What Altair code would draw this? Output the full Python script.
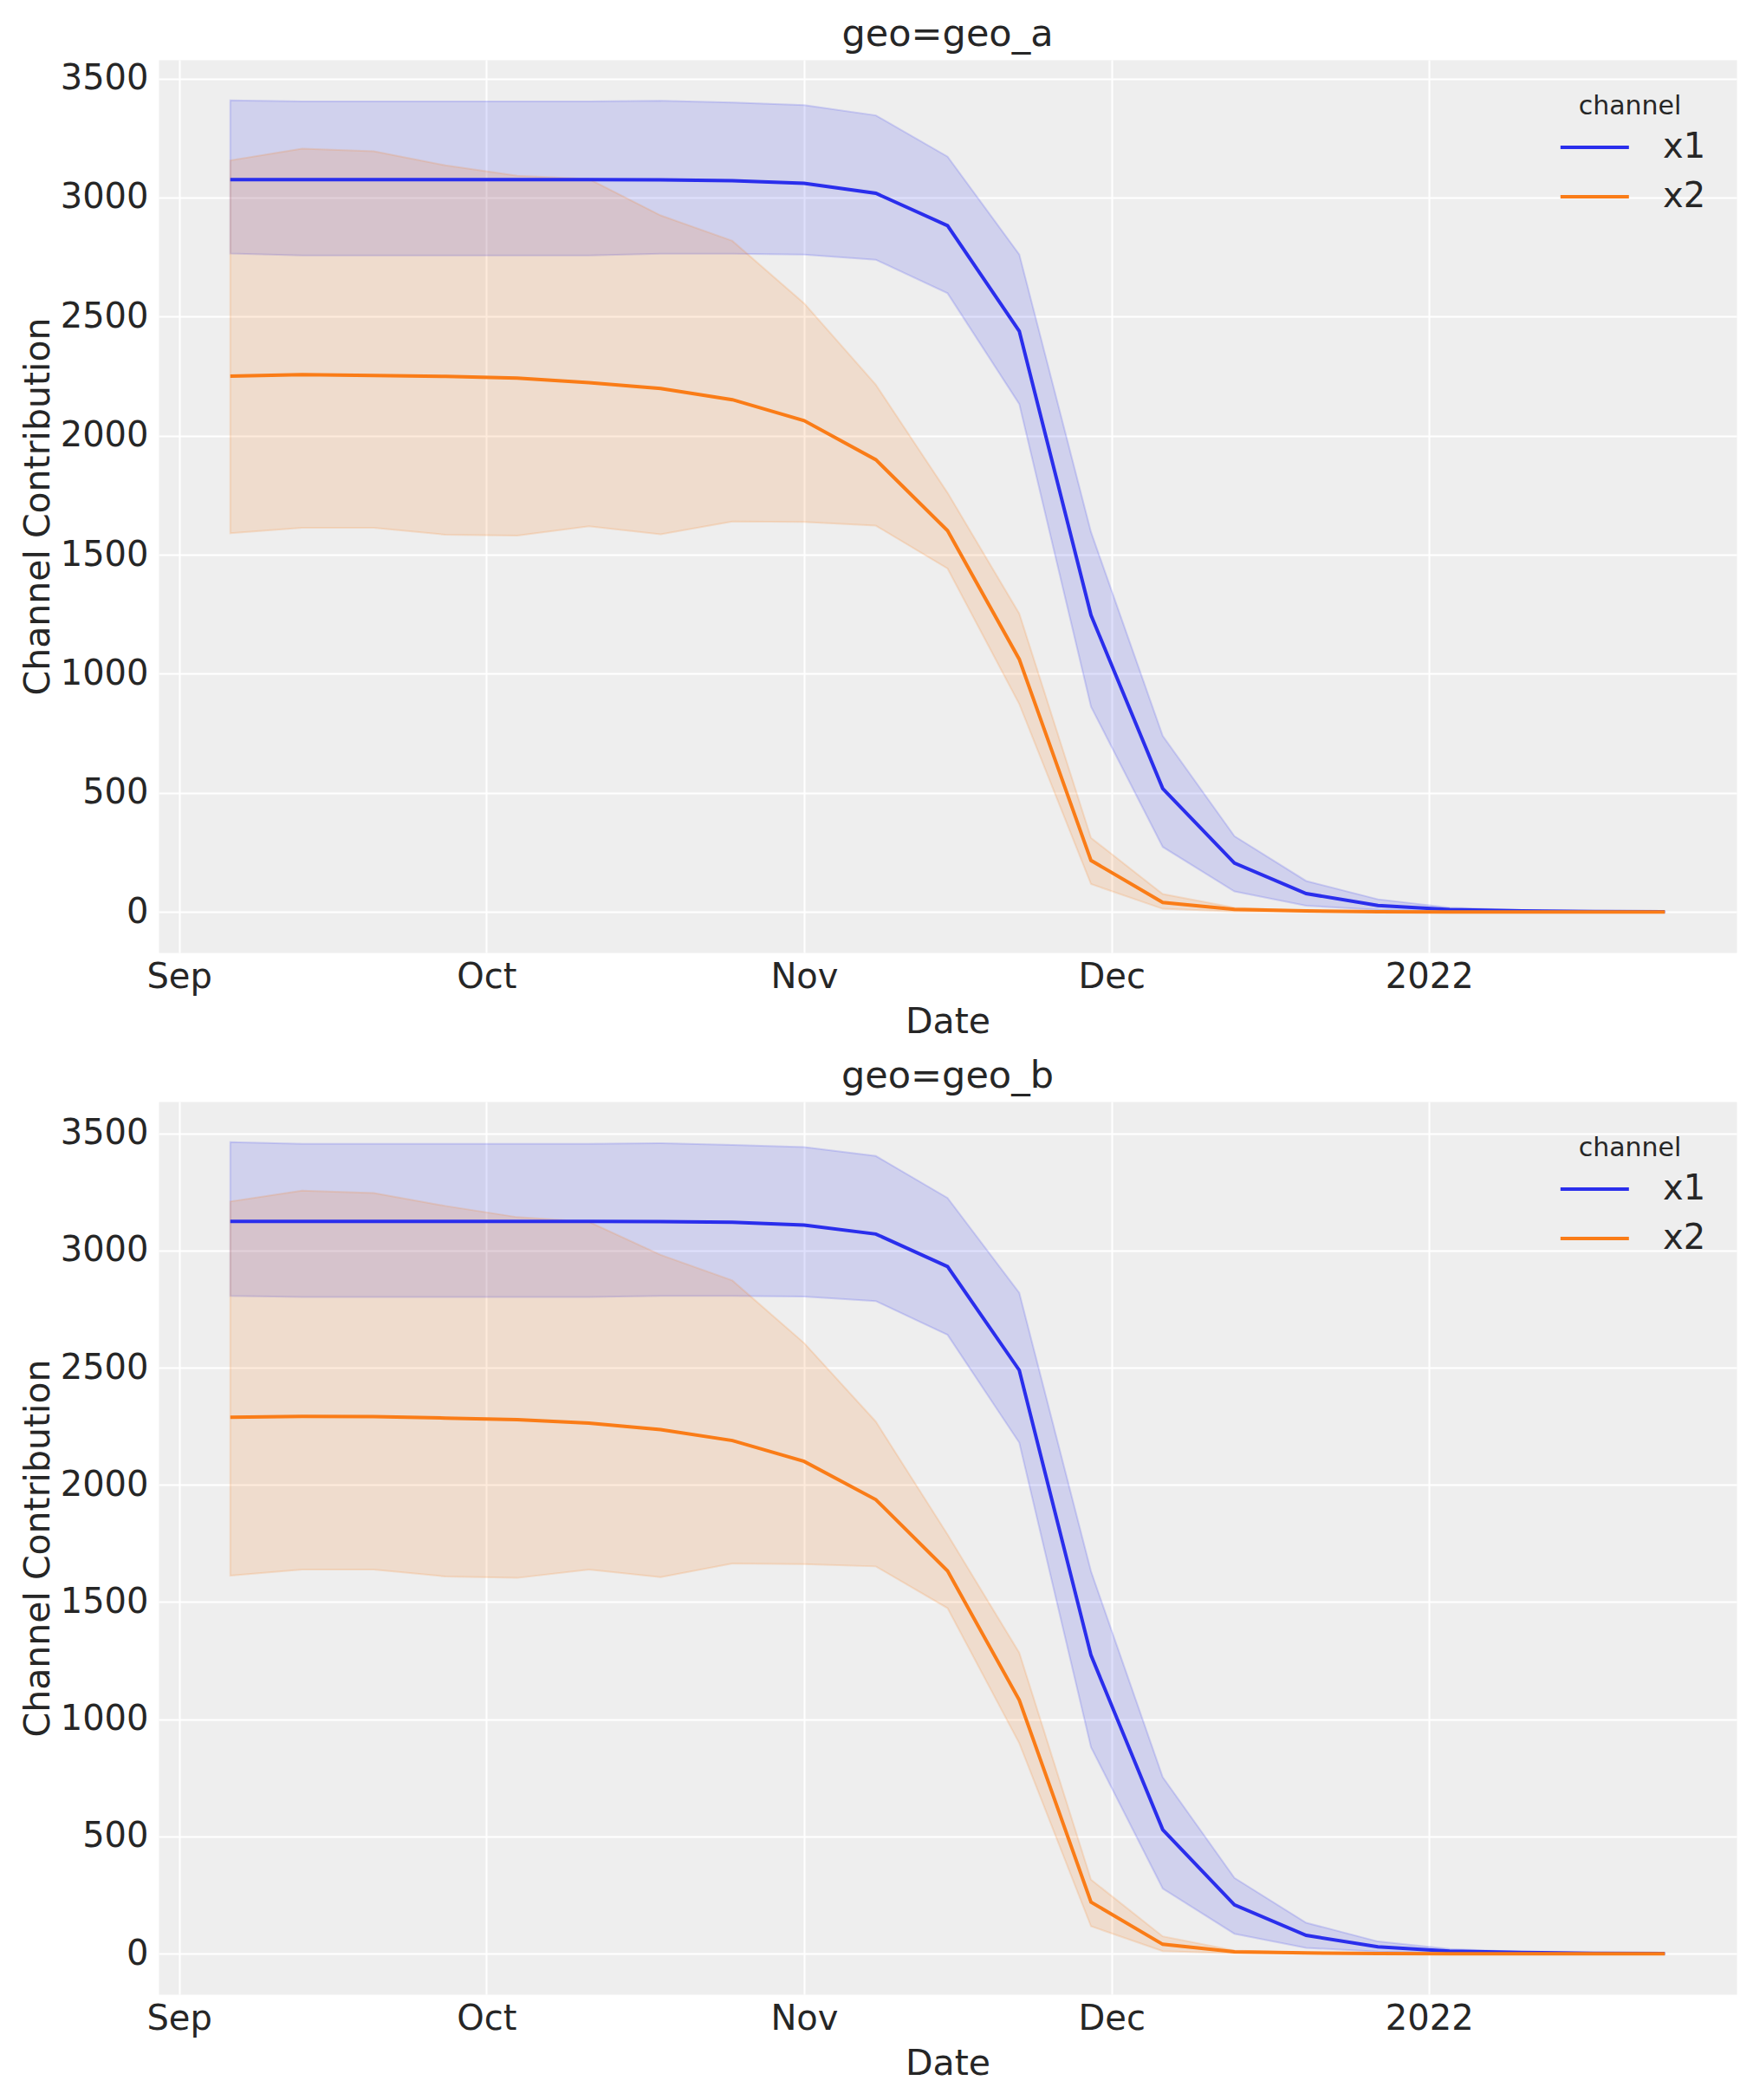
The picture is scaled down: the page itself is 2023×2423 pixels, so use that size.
import altair as alt
import pandas as pd

# ---------------- data ----------------
dates = [
    "2021-09-06", "2021-09-13", "2021-09-20", "2021-09-27", "2021-10-04",
    "2021-10-11", "2021-10-18", "2021-10-25", "2021-11-01", "2021-11-08",
    "2021-11-15", "2021-11-22", "2021-11-29", "2021-12-06", "2021-12-13",
    "2021-12-20", "2021-12-27", "2022-01-03", "2022-01-10", "2022-01-17",
    "2022-01-24",
]
channels = ["x1", "x2"]
geos = ["geo_a", "geo_b"]

# geo_a
a_x1_mean = [3075, 3075, 3075, 3075, 3075, 3075, 3074, 3071, 3060, 3018, 2882,
             2439, 1246, 518, 205, 77, 27, 10, 4, 2, 1]
a_x1_upper = [3408, 3404, 3404, 3404, 3404, 3404, 3406, 3399, 3388, 3345, 3172,
              2761, 1595, 739, 318, 130, 53, 18, 8, 3, 1]
a_x1_lower = [2765, 2757, 2757, 2757, 2757, 2757, 2764, 2764, 2760, 2739, 2598,
              2133, 862, 273, 86, 26, 9, 3, 1, 0, 0]
a_x2_mean = [2250, 2256, 2253, 2249, 2242, 2223, 2198, 2151, 2063, 1899, 1601,
             1061, 216, 40, 11, 4, 1, 0, 0, 0, 0]
a_x2_upper = [3156, 3205, 3194, 3135, 3092, 3078, 2925, 2818, 2556, 2214, 1760,
              1253, 311, 75, 18, 4, 1, 0, 0, 0, 0]
a_x2_lower = [1590, 1613, 1613, 1584, 1580, 1619, 1586, 1639, 1638, 1622, 1442,
              873, 117, 13, 2, 0, 0, 0, 0, 0, 0]

# geo_b
b_x1_mean = [3124, 3124, 3124, 3124, 3124, 3124, 3123, 3120, 3108, 3070, 2931,
             2489, 1273, 529, 208, 78, 29, 11, 5, 2, 1]
b_x1_upper = [3462, 3455, 3455, 3455, 3455, 3455, 3458, 3450, 3441, 3403, 3224,
              2819, 1631, 753, 323, 132, 52, 20, 8, 3, 1]
b_x1_lower = [2806, 2801, 2801, 2801, 2801, 2801, 2806, 2806, 2803, 2784, 2640,
              2180, 881, 278, 85, 25, 9, 3, 1, 0, 0]
b_x2_mean = [2288, 2292, 2291, 2285, 2278, 2263, 2236, 2189, 2100, 1937, 1633,
             1082, 220, 40, 8, 3, 1, 0, 0, 0, 0]
b_x2_upper = [3209, 3255, 3245, 3190, 3142, 3122, 2981, 2872, 2605, 2270, 1788,
              1284, 316, 74, 14, 4, 1, 0, 0, 0, 0]
b_x2_lower = [1613, 1639, 1639, 1609, 1603, 1639, 1606, 1664, 1662, 1652, 1474,
              898, 117, 11, 2, 0, 0, 0, 0, 0, 0]

series = {
    "geo_a": {"x1": (a_x1_mean, a_x1_lower, a_x1_upper),
              "x2": (a_x2_mean, a_x2_lower, a_x2_upper)},
    "geo_b": {"x1": (b_x1_mean, b_x1_lower, b_x1_upper),
              "x2": (b_x2_mean, b_x2_lower, b_x2_upper)},
}

# ---------------- styling ----------------
BLUE = "#2a2eec"
ORANGE = "#fa7c17"
TEXT = "#262626"
FONT = "DejaVu Sans"
PW, PH = 1821, 1030

tick_values = [
    alt.DateTime(year=2021, month=9, date=1, utc=True),
    alt.DateTime(year=2021, month=10, date=1, utc=True),
    alt.DateTime(year=2021, month=11, date=1, utc=True),
    alt.DateTime(year=2021, month=12, date=1, utc=True),
    alt.DateTime(year=2022, month=1, date=1, utc=True),
]
xscale = alt.Scale(
    type="utc",
    domain=[alt.DateTime(year=2021, month=8, date=30, utc=True),
            alt.DateTime(year=2022, month=1, date=31, utc=True)],
    nice=False,
)
xaxis = alt.Axis(
    title="Date", values=tick_values,
    labelExpr="utcFormat(datum.value, '%m') == '01' ? utcFormat(datum.value, '%Y') : utcFormat(datum.value, '%b')",
    labelFontSize=40, labelColor=TEXT, labelFont=FONT, labelBaseline="alphabetic",
    labelPadding=40, labelFlush=False, labelOverlap=False,
    ticks=False, tickSize=0, domain=False,
    grid=True, gridColor="white", gridWidth=2, gridOpacity=1,
    titleFontSize=41, titleFontWeight="normal", titleColor=TEXT, titleFont=FONT,
    titleBaseline="alphabetic", titleY=92,
)


def yaxis():
    return alt.Axis(
        title="Channel Contribution", values=[0, 500, 1000, 1500, 2000, 2500, 3000, 3500],
        format="d",
        labelFontSize=40, labelColor=TEXT, labelFont=FONT, labelPadding=12,
        labelFlush=False, labelOverlap=False,
        ticks=False, tickSize=0, domain=False,
        grid=True, gridColor="white", gridWidth=2, gridOpacity=1,
        titleFontSize=41, titleFontWeight="normal", titleColor=TEXT, titleFont=FONT,
        titleBaseline="alphabetic", titleAlign="center", titleAngle=270,
        titleX=-127, titleY=PH / 2,
    )


def panel(geo):
    rows = []
    for ch in channels:
        mean, lo, hi = series[geo][ch]
        for d, m, l, h in zip(dates, mean, lo, hi):
            rows.append({"date": d, "channel": ch, "band": ch,
                         "mean": m, "lower": l, "upper": h})
    df = pd.DataFrame(rows)
    ymax = float(df["upper"].max())
    yscale = alt.Scale(domain=[-0.05 * ymax, 1.05 * ymax], nice=False, zero=False)
    band_scale = alt.Scale(range=[BLUE, ORANGE])

    base = alt.Chart(df)
    band = base.mark_area(fillOpacity=0.15, strokeOpacity=0.17, strokeWidth=2).encode(
        x=alt.X("date:T", scale=xscale, axis=xaxis),
        y=alt.Y("lower:Q", scale=yscale, axis=yaxis()),
        y2="upper:Q",
        fill=alt.Fill("band:N", scale=band_scale, legend=None),
        stroke=alt.Stroke("band:N", scale=band_scale, legend=None),
    )
    line = base.mark_line(strokeWidth=4).encode(
        x=alt.X("date:T", scale=xscale, axis=xaxis),
        y=alt.Y("mean:Q", scale=yscale, axis=yaxis()),
        color=alt.Color(
            "channel:N", scale=alt.Scale(domain=channels, range=[BLUE, ORANGE]),
            legend=alt.Legend(
                title="channel", orient="none", legendX=1611, legendY=39,
                direction="vertical",
                symbolType="M-1,0H5", symbolSize=693, symbolStrokeWidth=4,
                labelFontSize=40, labelColor=TEXT, labelFont=FONT, labelOffset=85,
                titleFontSize=30, titleFontWeight="normal", titleColor=TEXT,
                titleFont=FONT, titleAnchor="middle", titlePadding=12,
                rowPadding=17, padding=0,
            ),
        ),
    )
    return alt.layer(band, line).properties(
        width=PW, height=PH,
        title=alt.TitleParams(
            f"geo={geo}", fontSize=43, fontWeight="normal", color=TEXT, font=FONT,
            baseline="alphabetic", offset=-27, anchor="middle",
        ),
    )


chart = (
    alt.vconcat(panel("geo_a"), panel("geo_b"), spacing=20)
    .resolve_scale(x="independent", y="independent", color="independent",
                   fill="independent", stroke="independent")
    .resolve_legend(color="independent")
    .properties(padding={"left": 14, "top": 10, "right": 5, "bottom": 5})
    .configure(font=FONT)
    .configure_view(fill="#eeeeee", stroke="transparent")
)

chart.save("out.html", embed_options={"renderer": "svg", "actions": False})
